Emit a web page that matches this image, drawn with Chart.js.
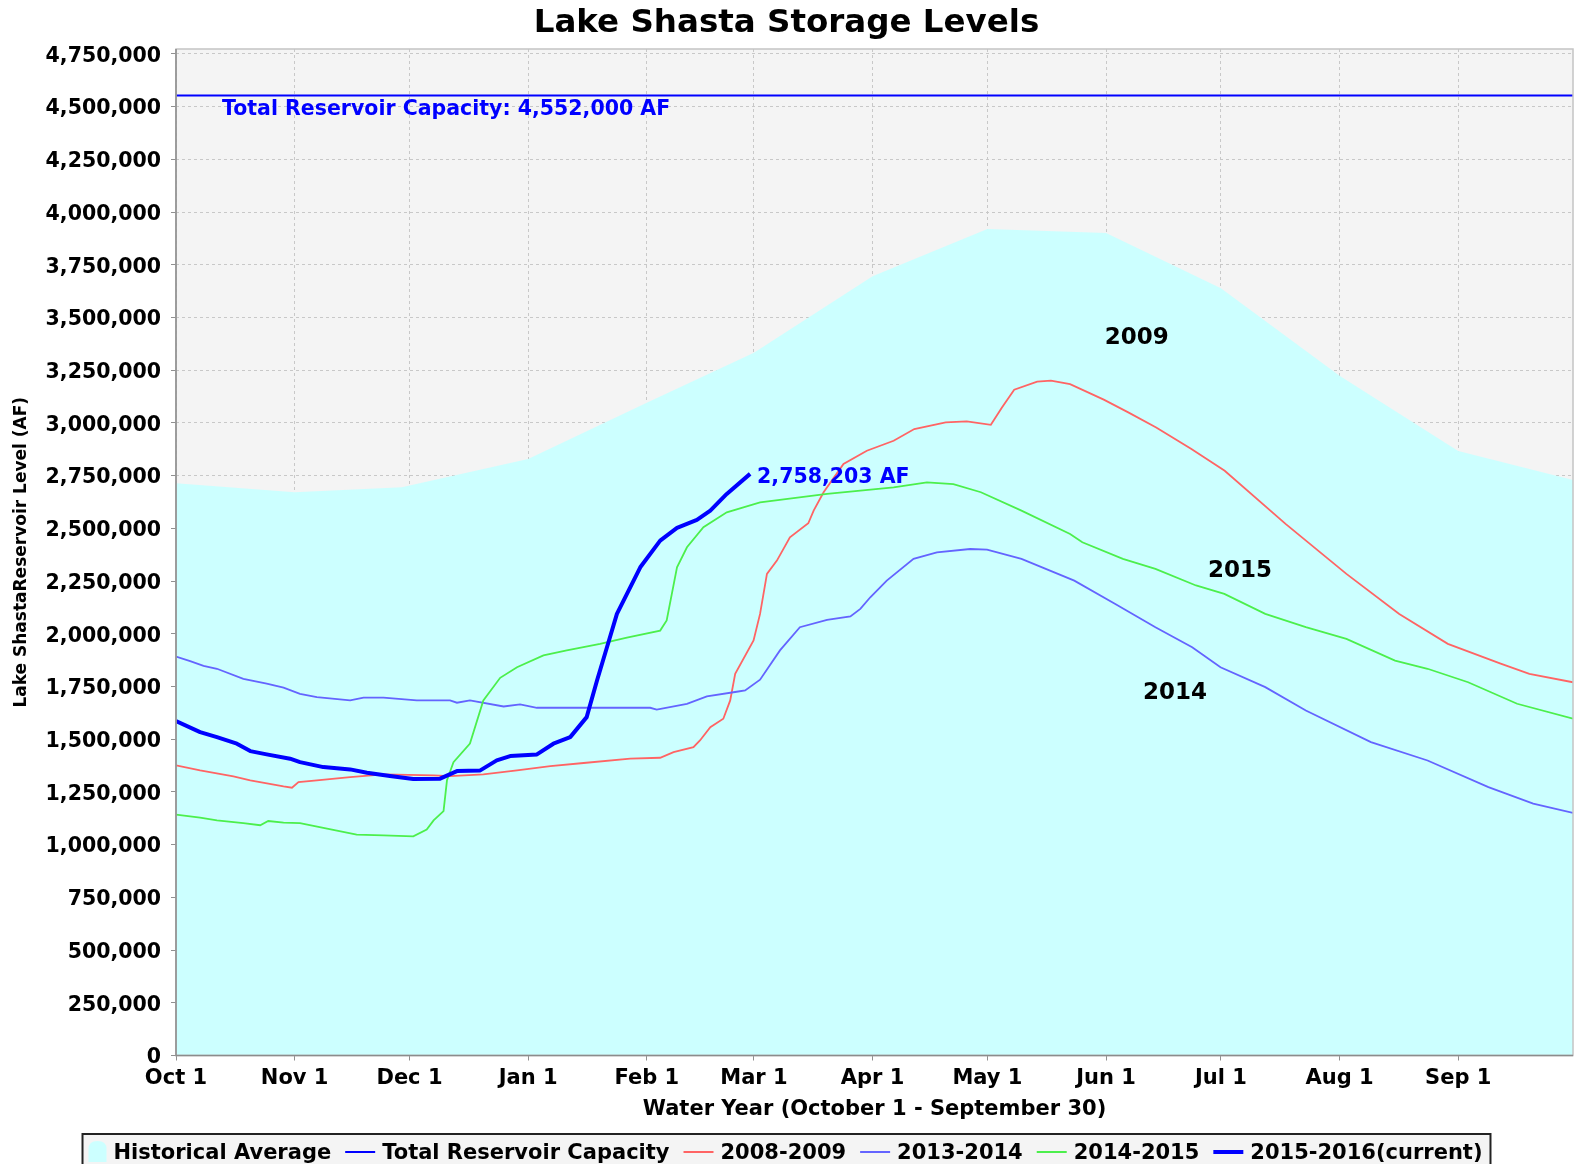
<!DOCTYPE html>
<html lang="en">
<head>
<meta charset="UTF-8">
<title>Lake Shasta Storage Levels</title>
<script src="https://cdn.jsdelivr.net/npm/chart.js"></script>
<style>
  html, body { margin: 0; padding: 0; background: #fff; overflow: hidden; }
  .wrap { position: relative; width: 1576px; height: 1164px; }
</style>
</head>
<body>
<div class="wrap"><canvas id="shasta"></canvas></div>
<script>
// x = days since Oct 1 of the water year, y = storage in acre-feet
const monthDays = [0, 31, 61, 92, 123, 151, 182, 212, 243, 273, 304, 335];
const monthLabels = ['Oct 1', 'Nov 1', 'Dec 1', 'Jan 1', 'Feb 1', 'Mar 1', 'Apr 1', 'May 1', 'Jun 1', 'Jul 1', 'Aug 1', 'Sep 1'];
const yTicks = [0, 250000, 500000, 750000, 1000000, 1250000, 1500000, 1750000, 2000000, 2250000,
  2500000, 2750000, 3000000, 3250000, 3500000, 3750000, 4000000, 4250000, 4500000, 4750000];

const capacity = 4552000;
const capacityDays = [0, 365];

const histDays = [0, 31, 59, 92, 123, 151, 182, 212, 243, 273, 304, 335, 365];
const histVals = [2714000, 2671000, 2695000, 2829000, 3095000, 3333000, 3695000, 3919000, 3900000, 3638000, 3224000, 2867000, 2729000];

const wy2009Days = [0, 6.3, 15, 19.4, 28.1, 30.3, 32, 36.8, 45.5, 54.2, 67.3, 71.6, 80.3, 89.1, 97.8, 106.5, 118.7, 126.5, 130, 135.2,
  136.9, 139.6, 143, 144.8, 146.1, 150.9, 152.6, 154.4, 157, 160.4, 165.2, 166.6, 169.2, 174.4, 180.5, 187.5, 192.9, 201.1, 206.6, 212.9,
  215.8, 219, 225, 228.6, 233.6, 242.4, 248.8, 256.1, 265.3, 274, 289.9, 305.8, 319.6, 332.3, 346.1, 353.6, 365];
const wy2009Vals = [1376000, 1352000, 1324000, 1305000, 1276000, 1270000, 1297000, 1305000, 1320000, 1333000, 1328000, 1325000, 1333000, 1352000, 1372000, 1387000, 1408000, 1412000, 1439000, 1462000,
  1494000, 1557000, 1597000, 1684000, 1810000, 1968000, 2094000, 2284000, 2347000, 2457000, 2524000, 2584000, 2671000, 2805000, 2868000, 2915000, 2971000, 3002000, 3007000, 2991000,
  3073000, 3157000, 3196000, 3200000, 3184000, 3110000, 3050000, 2978000, 2876000, 2773000, 2521000, 2284000, 2094000, 1952000, 1858000, 1810000, 1770000];

const wy2014Days = [0, 3.7, 7.2, 10.7, 17.6, 23.7, 28.1, 32.4, 36.8, 45.5, 49, 54.2, 62.9, 71.6, 73.4, 76.8, 85.6, 89.9, 94.3, 123.9,
  125.6, 133.5, 138.7, 146.5, 148.7, 152.6, 157.8, 163, 170.1, 176.2, 178.8, 181.4, 185.7, 192.7, 198.8, 207.5, 211.9, 220.9, 234.7, 245.3,
  255.9, 265.5, 272.9, 284.6, 295.2, 312.2, 327, 342.9, 354.6, 365];
const wy2014Vals = [1892000, 1870000, 1848000, 1834000, 1786000, 1763000, 1744000, 1715000, 1699000, 1684000, 1697000, 1697000, 1684000, 1684000, 1673000, 1684000, 1655000, 1665000, 1649000, 1649000,
  1640000, 1668000, 1703000, 1725000, 1731000, 1782000, 1921000, 2031000, 2066000, 2082000, 2118000, 2173000, 2252000, 2355000, 2386000, 2402000, 2399000, 2355000, 2252000, 2142000,
  2031000, 1936000, 1841000, 1747000, 1636000, 1486000, 1399000, 1273000, 1194000, 1150000];

const wy2015Days = [0, 6.3, 10.7, 17.6, 22, 24.1, 28.1, 32.4, 38.5, 47.2, 54.2, 62, 65.5, 67.3, 69.9, 70.8, 72.5, 76.8, 80.3, 84.7,
  89.1, 96, 102.1, 110.8, 117.8, 126.5, 128.2, 130.9, 133.5, 137.8, 143.9, 152.6, 170.1, 178.8, 187.5, 196.2, 203.1, 210.3, 220.9, 233.6,
  236.8, 247.4, 255.9, 266.5, 273.9, 284.6, 295.2, 305.8, 318.5, 327, 337.6, 350.4, 365];
const wy2015Vals = [1142000, 1128000, 1115000, 1102000, 1092000, 1112000, 1104000, 1102000, 1079000, 1047000, 1044000, 1039000, 1071000, 1115000, 1159000, 1305000, 1391000, 1479000, 1684000, 1791000,
  1841000, 1897000, 1921000, 1952000, 1982000, 2015000, 2063000, 2315000, 2410000, 2505000, 2576000, 2623000, 2663000, 2679000, 2694000, 2718000, 2710000, 2671000, 2584000, 2473000,
  2434000, 2355000, 2308000, 2229000, 2189000, 2094000, 2031000, 1976000, 1873000, 1834000, 1770000, 1668000, 1597000];

const wy2016Days = [0, 6.3, 10.7, 15.9, 19.4, 23.7, 29.8, 32.4, 38.5, 45.5, 49.9, 55.9, 62, 69, 73.4, 79.5, 83.8, 87.3, 94.3, 98.6,
  103, 107.3, 110, 112.6, 115.2, 121.3, 126.5, 130.9, 136.1, 139.6, 143.9, 150];
const wy2016Vals = [1585700, 1533500, 1509800, 1478600, 1443500, 1427900, 1407500, 1391400, 1367700, 1356800, 1341200, 1325100, 1310900, 1312800, 1348800, 1352100, 1399500, 1419800, 1427900, 1478600,
  1509800, 1604600, 1778500, 1936200, 2094400, 2315200, 2441700, 2501900, 2539800, 2583900, 2662900, 2758203];

// year tags placed in data coordinates
const yearTags = [
  { text: '2009', day: 251, val: 3414000 },
  { text: '2015', day: 278, val: 2309000 },
  { text: '2014', day: 261, val: 1733000 }
];

const FONT = '"DejaVu Sans", sans-serif';
Chart.defaults.font.family = FONT;
Chart.defaults.font.weight = 'bold';
Chart.defaults.color = '#000';

const pts = (xs, ys) => xs.map((d, i) => ({ x: d, y: ys[i] }));

const decor = {
  id: 'decor',
  beforeDraw(chart) {
    const { ctx, chartArea: a } = chart;
    ctx.save();
    ctx.fillStyle = '#f4f4f4';
    ctx.fillRect(a.left, a.top, a.right - a.left, a.bottom - a.top);
    ctx.restore();
  },
  afterDatasetsDraw(chart) {
    const { ctx, chartArea: a, scales: { x, y } } = chart;
    ctx.save();
    ctx.strokeStyle = '#c4c4c4';
    ctx.lineWidth = 1.5;
    ctx.strokeRect(a.left, a.top, a.right - a.left, a.bottom - a.top);
    ctx.strokeStyle = '#8c8c8c';
    ctx.beginPath();
    ctx.moveTo(a.left, a.top); ctx.lineTo(a.left, a.bottom); ctx.lineTo(a.right, a.bottom);
    ctx.stroke();

    ctx.font = 'bold 20.5px ' + FONT;
    ctx.fillStyle = '#0000ff';
    ctx.textAlign = 'left';
    ctx.textBaseline = 'middle';
    ctx.fillText('Total Reservoir Capacity: ' + capacity.toLocaleString('en-US') + ' AF',
      x.getPixelForValue(12), y.getPixelForValue(capacity) + 14);
    const n = wy2016Days.length - 1;
    ctx.fillText(wy2016Vals[n].toLocaleString('en-US') + ' AF',
      x.getPixelForValue(wy2016Days[n]) + 7, y.getPixelForValue(wy2016Vals[n]) + 4);

    ctx.font = 'bold 23px ' + FONT;
    ctx.fillStyle = '#000';
    ctx.textAlign = 'center';
    yearTags.forEach(t => ctx.fillText(t.text, x.getPixelForValue(t.day), y.getPixelForValue(t.val) + 2.5));
    ctx.restore();
  },
  // boxed legend along the bottom edge, built from the datasets
  afterDraw(chart) {
    const { ctx } = chart;
    const ds = chart.data.datasets;
    ctx.save();
    ctx.font = 'bold 21px ' + FONT;
    ctx.textAlign = 'left';
    ctx.textBaseline = 'middle';
    const iconW = ds.map((d, i) => (i === 0 ? 18 : 30));
    const textW = ds.map(d => ctx.measureText(d.label).width);
    let total = 0;
    ds.forEach((d, i) => { total += iconW[i] + 7 + textW[i] + (i < ds.length - 1 ? 14 : 0); });
    const cy = chart.height - 14;
    let cx = chart.width / 2 - 2.5 - total / 2;
    ctx.fillStyle = '#f4f4f4';
    ctx.fillRect(cx - 6, cy - 16, total + 14, 40);
    ctx.strokeStyle = '#222';
    ctx.lineWidth = 2;
    ctx.strokeRect(cx - 6, cy - 16, total + 14, 40);
    ds.forEach((d, i) => {
      if (i === 0) {
        ctx.fillStyle = d.backgroundColor;
        ctx.beginPath();
        ctx.moveTo(cx, cy + 12); ctx.lineTo(cx, cy - 1);
        ctx.quadraticCurveTo(cx, cy - 9, cx + 9, cy - 9);
        ctx.quadraticCurveTo(cx + 18, cy - 9, cx + 18, cy - 1);
        ctx.lineTo(cx + 18, cy + 12); ctx.closePath(); ctx.fill();
      } else {
        ctx.strokeStyle = d.borderColor;
        ctx.lineWidth = d.borderWidth >= 3 ? 4 : 2;
        ctx.beginPath();
        ctx.moveTo(cx, cy + 2); ctx.lineTo(cx + iconW[i], cy + 2);
        ctx.stroke();
      }
      ctx.fillStyle = '#000';
      ctx.fillText(d.label, cx + iconW[i] + 7, cy + 4);
      cx += iconW[i] + 7 + textW[i] + 14;
    });
    ctx.restore();
  }
};

new Chart(document.getElementById('shasta'), {
  type: 'line',
  data: {
    datasets: [
      { label: 'Historical Average', data: pts(histDays, histVals), fill: 'origin',
        backgroundColor: '#ccffff', borderColor: 'rgba(0,0,0,0)', borderWidth: 0, order: 5 },
      { label: 'Total Reservoir Capacity', data: pts(capacityDays, [capacity, capacity]),
        borderColor: '#0000ff', borderWidth: 2, order: 4 },
      { label: '2008-2009', data: pts(wy2009Days, wy2009Vals), borderColor: '#ff6464', borderWidth: 1.8, order: 3 },
      { label: '2013-2014', data: pts(wy2014Days, wy2014Vals), borderColor: '#6464ff', borderWidth: 1.8, order: 2 },
      { label: '2014-2015', data: pts(wy2015Days, wy2015Vals), borderColor: '#4cef4c', borderWidth: 1.8, order: 1 },
      { label: '2015-2016(current)', data: pts(wy2016Days, wy2016Vals), borderColor: '#0000ff', borderWidth: 4,
        borderJoinStyle: 'round', order: 0 }
    ]
  },
  options: {
    responsive: true,
    maintainAspectRatio: false,
    animation: false,
    events: [],
    layout: { padding: { top: 0, right: 3, bottom: 36.5, left: 0 } },
    elements: { point: { radius: 0 }, line: { tension: 0, fill: false } },
    plugins: {
      title: { display: true, text: 'Lake Shasta Storage Levels', color: '#000',
        font: { size: 32.5, weight: 'bold' }, padding: { top: 4.5, bottom: 5.5 } },
      legend: { display: false },
      tooltip: { enabled: false },
      filler: { drawTime: 'beforeDatasetsDraw' }
    },
    scales: {
      x: {
        type: 'linear', min: 0, max: 365,
        afterBuildTicks: s => { s.ticks = monthDays.map(v => ({ value: v })); },
        afterFit: s => { s.height = 72; },
        ticks: { autoSkip: false, maxRotation: 0, padding: 5.5, color: '#000',
          font: { size: 21, weight: 'bold' }, callback: v => monthLabels[monthDays.indexOf(v)] },
        grid: { color: '#c8c8c8', tickColor: '#909090', tickLength: 5, tickBorderDash: [] },
        border: { display: false, dash: [3, 3] },
        title: { display: true, text: 'Water Year (October 1 - September 30)', color: '#000',
          font: { size: 21, weight: 'bold' }, padding: { top: 0, bottom: 5.5 } }
      },
      y: {
        min: 0, max: 4773000,
        afterBuildTicks: s => { s.ticks = yTicks.map(v => ({ value: v })); },
        afterFit: s => { s.width = 176; },
        ticks: { autoSkip: false, padding: 10, labelOffset: 2.5, color: '#000',
          font: { size: 20.5, weight: 'bold' }, callback: v => v.toLocaleString('en-US') },
        grid: { color: '#c8c8c8', tickColor: '#909090', tickLength: 5, tickBorderDash: [] },
        border: { display: false, dash: [3, 3] },
        title: { display: true, text: 'Lake ShastaReservoir Level (AF)', color: '#000',
          font: { size: 17, weight: 'bold' }, padding: { top: 11, bottom: 0 } }
      }
    }
  },
  plugins: [decor]
});
</script>
</body>
</html>
